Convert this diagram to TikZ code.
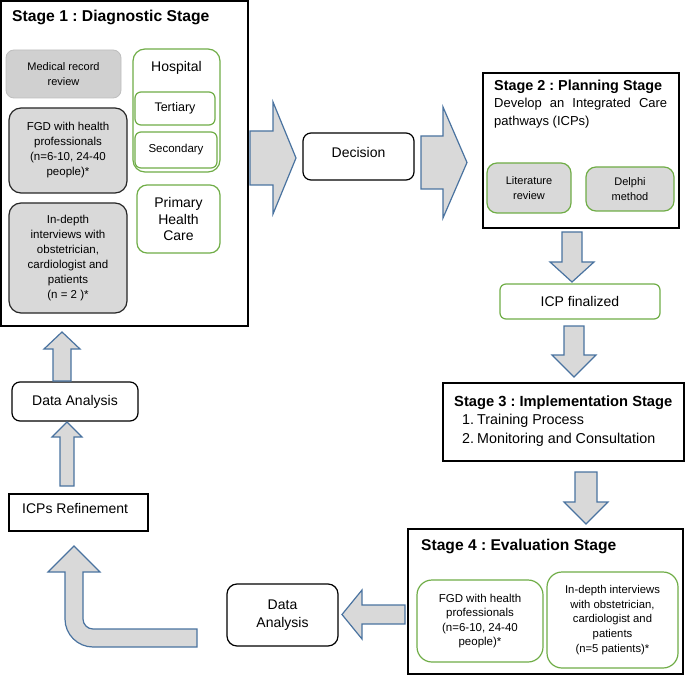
\documentclass[tikz,border=0pt]{standalone}
\usepackage{fontspec}
\setmainfont{Liberation Sans}
\definecolor{agreen}{RGB}{112,173,71}
\definecolor{ablue}{RGB}{74,115,160}
\definecolor{agray}{RGB}{217,217,217}
\definecolor{mgray}{RGB}{208,208,208}
\definecolor{mborder}{RGB}{190,190,190}
\begin{document}
\frenchspacing
\begin{tikzpicture}[x=1pt,y=-1pt,
  stagebox/.style={draw=black, line width=1.2pt, fill=white, inner sep=0pt},
  graybox/.style={draw=black!85, line width=1.2pt, fill=agray, rounded corners=12pt, inner sep=0pt, align=center},
  medbox/.style={draw=mborder, line width=0.8pt, fill=mgray, rounded corners=8pt, inner sep=0pt, align=center},
  greenbox/.style={draw=agreen, line width=1.2pt, fill=white, rounded corners=10pt, inner sep=0pt, align=center},
  greengray/.style={draw=agreen, line width=1.2pt, fill=agray, rounded corners=10pt, inner sep=0pt, align=center},
  roundbox/.style={draw=black, line width=1.2pt, fill=white, rounded corners=8pt, inner sep=0pt, align=center},
  blockarrow/.style={draw=ablue, line width=1.2pt, fill=agray, line join=miter},
  title/.style={anchor=base west, inner sep=0pt, font={\fontsize{#1}{#1}\selectfont\bfseries}},
  plain/.style={anchor=base west, inner sep=0pt, font={\fontsize{#1}{#1}\selectfont}},
  fsmall/.style={font={\fontsize{11.5}{15}\selectfont}},
  fbig/.style={font={\fontsize{14}{17}\selectfont}}
]
\useasboundingbox (0,0) rectangle (685,676);

% ---------- Stage 1 ----------
\node[stagebox, minimum width=247pt, minimum height=325pt] (s1) at (124.5,163.5) {};
\node[title=15.7] (t1) at (12,22) {Stage 1 : Diagnostic Stage};
\node[medbox, minimum width=115pt, minimum height=48pt, font={\fontsize{11}{15.5}\selectfont}] (mrr) at (63.5,74) {Medical record\\review};
\node[graybox, fsmall, minimum width=118pt, minimum height=85pt] (fgd1) at (68,150.5) {FGD with health\\professionals\\(n=6-10, 24-40\\people)*};
\node[graybox, fsmall, minimum width=118pt, minimum height=110pt] (idi1) at (68,258) {In-depth\\interviews with\\obstetrician,\\cardiologist and\\patients\\(n = 2 )*};
\node[greenbox, minimum width=87pt, minimum height=123pt, rounded corners=12pt] (hosp) at (176.5,110.5) {};
\node[inner sep=0pt, font={\fontsize{14}{14}\selectfont}] (hosplabel) at (176.5,68) {Hospital};
\node[greenbox, rounded corners=6pt, minimum width=80pt, minimum height=33pt, font={\fontsize{12.5}{14}\selectfont}] (tert) at (175,108.5) {Tertiary};
\node[greenbox, rounded corners=6pt, minimum width=82pt, minimum height=36pt, font={\fontsize{11.5}{14}\selectfont}] (sec) at (176,150) {Secondary};
\node[greenbox, rounded corners=10pt, minimum width=83pt, minimum height=68pt, font={\fontsize{14}{16.5}\selectfont}] (phc) at (178.5,219) {Primary\\Health\\Care};

% ---------- Decision ----------
\node[roundbox, minimum width=111pt, minimum height=47pt] (dec) at (358.5,156.5) {};
\node[inner sep=0pt, fbig] (dectext) at (358.5,152.5) {Decision};

% ---------- Stage 2 ----------
\node[stagebox, minimum width=196pt, minimum height=155pt] (s2) at (581,150.5) {};
\node[title=14.4] (t2) at (494,91) {Stage 2 : Planning Stage};
\node[plain=13] (dev1) at (494,108) {\makebox[173pt][s]{Develop an Integrated Care}};
\node[plain=13] (dev2) at (494,126) {pathways (ICPs)};
\node[greengray, minimum width=84pt, minimum height=50pt, font={\fontsize{11}{15}\selectfont}] (lit) at (529,188) {Literature\\review};
\node[greengray, minimum width=88pt, minimum height=44pt, font={\fontsize{11}{15}\selectfont}] (delphi) at (630,189) {Delphi\\method};

% ---------- ICP finalized ----------
\node[greenbox, rounded corners=6pt, minimum width=160pt, minimum height=35pt, fbig] (icpf) at (580,301.5) {ICP finalized};

% ---------- Stage 3 ----------
\node[stagebox, minimum width=241pt, minimum height=78pt] (s3) at (563.5,422) {};
\node[title=14.7] (t3) at (454,406) {Stage 3 : Implementation Stage};
\node[plain=14.3] (it1) at (462,424) {\makebox[15pt][l]{1.}Training Process};
\node[plain=14.3] (it2) at (462,443) {\makebox[15pt][l]{2.}Monitoring and Consultation};

% ---------- Stage 4 ----------
\node[stagebox, minimum width=275pt, minimum height=145pt] (s4) at (545.5,601.5) {};
\node[title=15.6] (t4) at (421,550) {Stage 4 : Evaluation Stage};
\node[greenbox, rounded corners=15pt, minimum width=126pt, minimum height=82pt, font={\fontsize{11.5}{14.5}\selectfont}] (fgd4) at (480,621) {FGD with health\\professionals\\(n=6-10, 24-40\\people)*};
\node[greenbox, rounded corners=15pt, minimum width=131pt, minimum height=96pt, font={\fontsize{11.3}{14.7}\selectfont}] (idi4) at (612.5,620) {In-depth interviews\\with obstetrician,\\cardiologist and\\patients\\(n=5 patients)*};

% ---------- Data analysis (bottom) ----------
\node[roundbox, rounded corners=10pt, minimum width=111pt, minimum height=62pt, font={\fontsize{14}{18}\selectfont}] (da2) at (282.5,615) {Data\\Analysis};

% ---------- ICPs Refinement ----------
\node[stagebox, minimum width=139pt, minimum height=37pt] (icpr) at (78.5,512.5) {};
\node[anchor=west, inner sep=0pt, fbig] (icprtext) at (22,508) {ICPs Refinement};

% ---------- Data analysis (left) ----------
\node[roundbox, minimum width=126pt, minimum height=39pt, fbig] (da1) at (75,401.5) {Data Analysis};

% ---------- Block arrows ----------
% Stage 1 -> Decision
\draw[blockarrow] (250,131) -- (273,131) -- (273,102) -- (296,158) -- (273,214) -- (273,185) -- (250,185) -- cycle;
% Decision -> Stage 2
\draw[blockarrow] (421,136) -- (443,136) -- (443,107) -- (467,162.5) -- (443,218) -- (443,189) -- (421,189) -- cycle;
% Stage 2 -> ICP finalized
\draw[blockarrow] (562,232) -- (582,232) -- (582,262) -- (594,262) -- (572,282) -- (550,262) -- (562,262) -- cycle;
% ICP finalized -> Stage 3
\draw[blockarrow] (564,326) -- (584,326) -- (584,355) -- (596,355) -- (574,377) -- (552,355) -- (564,355) -- cycle;
% Stage 3 -> Stage 4
\draw[blockarrow] (575,472) -- (597,472) -- (597,502) -- (608,502) -- (586,524) -- (564,502) -- (575,502) -- cycle;
% Stage 4 -> Data Analysis
\draw[blockarrow] (405,605) -- (362,605) -- (362,590) -- (342,614.5) -- (362,639) -- (362,624) -- (405,624) -- cycle;
% Data Analysis -> ICPs Refinement (bent)
\draw[blockarrow] (74,546) -- (100,572) -- (83,572) -- (83,619)
  .. controls (83,624.5) and (87.5,629) .. (93,629) -- (197,629) -- (197,647) -- (93,647)
  .. controls (77.6,647) and (65,634.4) .. (65,619) -- (65,572) -- (48,572) -- cycle;
% ICPs Refinement -> Data Analysis
\draw[blockarrow] (60,486) -- (74,486) -- (74,437) -- (82,437) -- (67,422) -- (52,437) -- (60,437) -- cycle;
% Data Analysis -> Stage 1
\draw[blockarrow] (53,381) -- (71,381) -- (71,349) -- (80,349) -- (62,332) -- (44,349) -- (53,349) -- cycle;
\end{tikzpicture}
\end{document}
